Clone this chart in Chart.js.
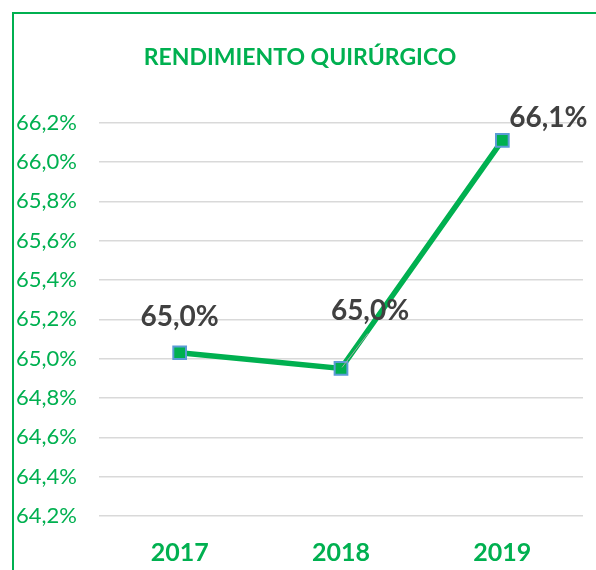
<!DOCTYPE html>
<html>
<head>
<meta charset="utf-8">
<script src="https://cdn.jsdelivr.net/npm/chart.js@4"></script>
<style>
  html, body { margin: 0; padding: 0; background: #fff; }
  #wrap { position: relative; width: 596px; height: 570px; overflow: hidden; }
  #frame { position: absolute; left: 12px; top: 12px; right: -4px; bottom: -4px;
           border-left: 2px solid #00B050; border-top: 2px solid #00B050; }
  canvas { position: absolute; left: 0; top: 0; }
</style>
</head>
<body>
<div id="wrap">
  <div id="frame"></div>
  <canvas id="chart" width="596" height="570"></canvas>
</div>
<script>
const years = ['2017', '2018', '2019'];
const rendimiento = [65.03, 64.95, 66.11];
const yMin = 64.2;
const yMax = 66.2;
const yStep = 0.2;

const GREEN = '#00B050';
const fmt = (v) => v.toFixed(1).replace('.', ',') + '%';

// where each value label sits relative to its point (dx, dy) and whether it gets a leader line
const labelOffsets = [
  { dx: 0, dy: -36, leader: false },
  { dx: 29, dy: -58, leader: true },
  { dx: 46, dy: -22, leader: false }
];

const valueLabels = {
  id: 'valueLabels',
  afterDatasetsDraw(chart) {
    const ctx = chart.ctx;
    const meta = chart.getDatasetMeta(0);
    ctx.save();
    meta.data.forEach((pt, i) => {
      const off = labelOffsets[i];
      const x = pt.x + off.dx;
      const y = pt.y + off.dy;
      if (off.leader) {
        ctx.strokeStyle = '#a6a6a6';
        ctx.lineWidth = 1;
        ctx.beginPath();
        ctx.moveTo(x - 2, y + 23);
        ctx.lineTo(pt.x + 1, pt.y - 1);
        ctx.stroke();
      }
      ctx.font = 'bold 28px Lato';
      ctx.fillStyle = '#404040';
      ctx.textAlign = 'center';
      ctx.textBaseline = 'middle';
      ctx.fillText(fmt(chart.data.datasets[0].data[i]), x, y);
    });
    ctx.restore();
  }
};

new Chart(document.getElementById('chart'), {
  type: 'line',
  data: {
    labels: years,
    datasets: [{
      data: rendimiento,
      borderColor: GREEN,
      borderWidth: 5.5,
      pointStyle: 'rect',
      pointRadius: 9,
      pointBackgroundColor: GREEN,
      pointBorderColor: '#5B9BD5',
      pointBorderWidth: 2,
      tension: 0
    }]
  },
  options: {
    responsive: false,
    animation: false,
    layout: { padding: { left: 17, right: 13, top: 0, bottom: 0 } },
    plugins: {
      legend: { display: false },
      tooltip: { enabled: false },
      title: {
        display: true,
        text: 'RENDIMIENTO QUIRÚRGICO',
        color: GREEN,
        font: { family: 'Lato', size: 23, weight: 'bold' },
        padding: { top: 44, bottom: 51 }
      }
    },
    scales: {
      x: {
        offset: true,
        grid: { display: false },
        border: { display: false },
        ticks: {
          color: GREEN,
          font: { family: 'Lato', size: 25, weight: 'bold' },
          padding: 14
        },
        afterFit: (scale) => { scale.height = 54; }
      },
      y: {
        min: yMin,
        max: yMax,
        border: { display: false },
        grid: { color: '#d9d9d9', lineWidth: 1.5, drawTicks: false },
        ticks: {
          stepSize: yStep,
          color: GREEN,
          font: { family: 'Lato', size: 22 },
          padding: 22,
          callback: (v) => fmt(v)
        },
        afterFit: (scale) => { scale.width = 82; }
      }
    }
  },
  plugins: [valueLabels]
});
</script>
</body>
</html>
